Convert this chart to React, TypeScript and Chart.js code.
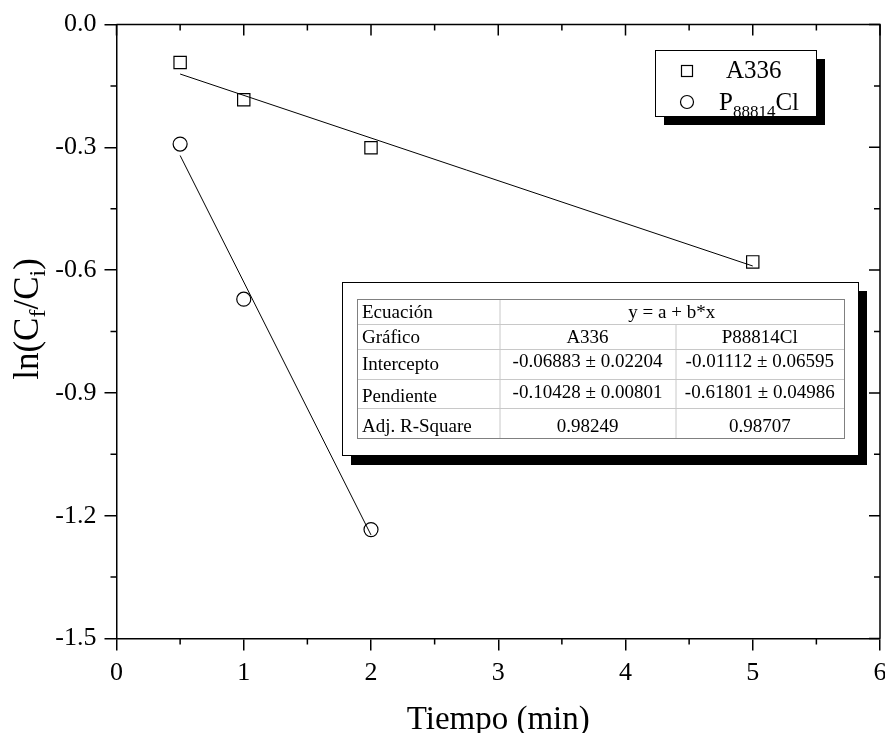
import React, { useEffect, useRef } from "react";
import { Chart, registerables } from "chart.js";
Chart.register(...registerables);

// ---- data ----
const xA336 = [0.5, 1, 2, 5];
const yA336 = [-0.093, -0.184, -0.301, -0.58];
const xP88814Cl = [0.5, 1, 2];
const yP88814Cl = [-0.292, -0.671, -1.234];
const fitXA336 = [0.5, 5];
const fitYA336 = [-0.121, -0.59];
const fitXP88814Cl = [0.5, 2];
const fitYP88814Cl = [-0.32, -1.247];
const xTicks = [0, 1, 2, 3, 4, 5, 6];
const xMinorTicks = [0.5, 1.5, 2.5, 3.5, 4.5, 5.5];
const yTicks = [0, -0.3, -0.6, -0.9, -1.2, -1.5];
const yMinorTicks = [-0.15, -0.45, -0.75, -1.05, -1.35];
const legendNames = ["A336", "P88814Cl"];
const tableRows: string[][] = [
  ["Ecuación", "y = a + b*x"],
  ["Gráfico", "A336", "P88814Cl"],
  ["Intercepto", "-0.06883 ± 0.02204", "-0.01112 ± 0.06595"],
  ["Pendiente", "-0.10428 ± 0.00801", "-0.61801 ± 0.04986"],
  ["Adj. R-Square", "0.98249", "0.98707"],
];

const FONT = "'Liberation Serif', 'Times New Roman', serif";

const pts = (xs: number[], ys: number[]) => xs.map((x, i) => ({ x, y: ys[i] }));

const noPadding = () => ({ left: 0, top: 0, right: 0, bottom: 0 });

const decor = {
  id: "decor",
  afterDraw(chart: any) {
    const { ctx, chartArea: a, scales } = chart;
    const x = scales.x;
    const y = scales.y;
    ctx.save();
    ctx.strokeStyle = "#000";
    ctx.lineWidth = 1.5;
    // top & right frame
    ctx.beginPath();
    ctx.moveTo(a.left, a.top);
    ctx.lineTo(a.right, a.top);
    ctx.lineTo(a.right, a.bottom);
    ctx.stroke();
    ctx.beginPath();
    xTicks.forEach((v) => {
      const px = x.getPixelForValue(v);
      ctx.moveTo(px, a.top);
      ctx.lineTo(px, a.top + 11);
    });
    xMinorTicks.forEach((v) => {
      const px = x.getPixelForValue(v);
      ctx.moveTo(px, a.top);
      ctx.lineTo(px, a.top + 6);
      ctx.moveTo(px, a.bottom);
      ctx.lineTo(px, a.bottom + 6);
    });
    yTicks.forEach((v) => {
      const py = y.getPixelForValue(v);
      ctx.moveTo(a.right, py);
      ctx.lineTo(a.right - 11, py);
    });
    yMinorTicks.forEach((v) => {
      const py = y.getPixelForValue(v);
      ctx.moveTo(a.right, py);
      ctx.lineTo(a.right - 6, py);
      ctx.moveTo(a.left, py);
      ctx.lineTo(a.left - 6, py);
    });
    ctx.stroke();

    // x title
    ctx.fillStyle = "#000";
    ctx.font = `33px ${FONT}`;
    ctx.textAlign = "center";
    ctx.textBaseline = "alphabetic";
    ctx.fillText("Tiempo (min)", (a.left + a.right) / 2, 729);

    // y title with subscripts
    ctx.save();
    ctx.translate(38, 319);
    ctx.rotate(-Math.PI / 2);
    const parts: [string, boolean][] = [
      ["ln(C", false],
      ["f", true],
      ["/C", false],
      ["i", true],
      [")", false],
    ];
    const big = `35px ${FONT}`;
    const small = `24px ${FONT}`;
    let total = 0;
    parts.forEach(([t, s]) => {
      ctx.font = s ? small : big;
      total += ctx.measureText(t).width;
    });
    let cx = -total / 2;
    ctx.textAlign = "left";
    parts.forEach(([t, s]) => {
      ctx.font = s ? small : big;
      ctx.fillText(t, cx, s ? 7 : 0);
      cx += ctx.measureText(t).width;
    });
    ctx.restore();

    // legend box
    ctx.fillStyle = "#000";
    ctx.fillRect(664, 59, 161, 66);
    ctx.fillStyle = "#fff";
    ctx.fillRect(655, 50, 161, 66);
    ctx.strokeStyle = "#000";
    ctx.lineWidth = 1;
    ctx.strokeRect(655.5, 50.5, 161, 66);
    ctx.lineWidth = 1.2;
    ctx.strokeRect(681.5, 65.5, 11, 11);
    ctx.beginPath();
    ctx.arc(687, 102, 6.5, 0, Math.PI * 2);
    ctx.stroke();
    ctx.fillStyle = "#000";
    ctx.textAlign = "left";
    ctx.font = `25px ${FONT}`;
    ctx.fillText(legendNames[0], 726, 78);
    ctx.fillText("P", 719, 110);
    let lx = 719 + ctx.measureText("P").width;
    ctx.font = `17px ${FONT}`;
    ctx.fillText("88814", lx, 117);
    lx += ctx.measureText("88814").width;
    ctx.font = `25px ${FONT}`;
    ctx.fillText("Cl", lx, 110);

    // table
    ctx.fillStyle = "#000";
    ctx.fillRect(351, 291, 516, 174);
    ctx.fillStyle = "#fff";
    ctx.fillRect(342, 282, 516, 173);
    ctx.strokeStyle = "#000";
    ctx.lineWidth = 1;
    ctx.strokeRect(342.5, 282.5, 516, 173);
    const rowsY = [299, 324, 349, 379, 408, 438];
    const colsX = [357, 499.5, 675.5, 844];
    ctx.strokeStyle = "#c8c8c8";
    ctx.beginPath();
    rowsY.forEach((ry) => {
      ctx.moveTo(colsX[0], ry + 0.5);
      ctx.lineTo(colsX[3], ry + 0.5);
    });
    ctx.moveTo(colsX[1] + 0.5, rowsY[0]);
    ctx.lineTo(colsX[1] + 0.5, rowsY[5]);
    ctx.moveTo(colsX[2] + 0.5, rowsY[1]);
    ctx.lineTo(colsX[2] + 0.5, rowsY[5]);
    ctx.stroke();
    ctx.strokeStyle = "#808080";
    ctx.strokeRect(colsX[0] + 0.5, rowsY[0] + 0.5, colsX[3] - colsX[0], rowsY[5] - rowsY[0]);
    ctx.fillStyle = "#000";
    ctx.font = `19px ${FONT}`;
    const labelBase = [318, 343, 370, 402, 432];
    const valBase = [318, 343, 367, 398, 432];
    tableRows.forEach((row, i) => {
      ctx.textAlign = "left";
      ctx.fillText(row[0], colsX[0] + 5, labelBase[i]);
      ctx.textAlign = "center";
      if (row.length === 2) {
        ctx.fillText(row[1], (colsX[1] + colsX[3]) / 2, valBase[i]);
      } else {
        ctx.fillText(row[1], (colsX[1] + colsX[2]) / 2, valBase[i]);
        ctx.fillText(row[2], (colsX[2] + colsX[3]) / 2, valBase[i]);
      }
    });
    ctx.restore();
  },
};

export default function App() {
  const ref = useRef<HTMLCanvasElement | null>(null);
  useEffect(() => {
    if (!ref.current) return;
    const tickFont = { family: FONT, size: 26 };
    const chart = new Chart(ref.current, {
      type: "scatter",
      data: {
        datasets: [
          {
            label: "A336 fit",
            data: pts(fitXA336, fitYA336),
            showLine: true,
            borderColor: "#000",
            borderWidth: 1,
            pointRadius: 0,
          },
          {
            label: "P88814Cl fit",
            data: pts(fitXP88814Cl, fitYP88814Cl),
            showLine: true,
            borderColor: "#000",
            borderWidth: 1,
            pointRadius: 0,
          },
          {
            label: legendNames[0],
            data: pts(xA336, yA336),
            pointStyle: "rect",
            pointRadius: 8.7,
            borderColor: "#000",
            backgroundColor: "rgba(0,0,0,0)",
            borderWidth: 1.2,
          },
          {
            label: legendNames[1],
            data: pts(xP88814Cl, yP88814Cl),
            pointStyle: "circle",
            pointRadius: 7,
            borderColor: "#000",
            backgroundColor: "rgba(0,0,0,0)",
            borderWidth: 1.2,
          },
        ],
      },
      options: {
        responsive: false,
        animation: false,
        layout: { autoPadding: false, padding: { top: 24.5, right: 5, left: 0, bottom: 0 } },
        plugins: { legend: { display: false }, tooltip: { enabled: false } },
        scales: {
          x: {
            type: "linear",
            min: 0,
            max: 6,
            afterBuildTicks: (s: any) => {
              s.ticks = xTicks.map((v) => ({ value: v }));
            },
            afterFit: (s: any) => {
              s.height = 94.5;
              s.paddingRight = 0;
              s.paddingLeft = 0;
              s.getPadding = noPadding;
            },
            ticks: {
              font: tickFont,
              color: "#000",
              padding: 7,
              maxRotation: 0,
              callback: (v: any) => String(v),
            },
            grid: { drawOnChartArea: false, drawTicks: true, tickLength: 12, color: "#000", lineWidth: 1.5 },
            border: { display: true, color: "#000", width: 1.5 },
          },
          y: {
            type: "linear",
            min: -1.5,
            max: 0,
            afterBuildTicks: (s: any) => {
              s.ticks = yTicks.map((v) => ({ value: v }));
            },
            afterFit: (s: any) => {
              s.width = 116.5;
              s.paddingTop = 0;
              s.paddingBottom = 0;
              s.getPadding = noPadding;
            },
            ticks: {
              font: tickFont,
              color: "#000",
              padding: 8,
              callback: (v: any) => Number(v).toFixed(1),
            },
            grid: { drawOnChartArea: false, drawTicks: true, tickLength: 12, color: "#000", lineWidth: 1.5 },
            border: { display: true, color: "#000", width: 1.5 },
          },
        },
      },
      plugins: [decor],
    });
    return () => chart.destroy();
  }, []);
  return (
    <div style={{ position: "absolute", left: 0, top: 0, width: 885, height: 733, background: "#fff" }}>
      <canvas ref={ref} width={885} height={733} style={{ display: "block" }} />
    </div>
  );
}
